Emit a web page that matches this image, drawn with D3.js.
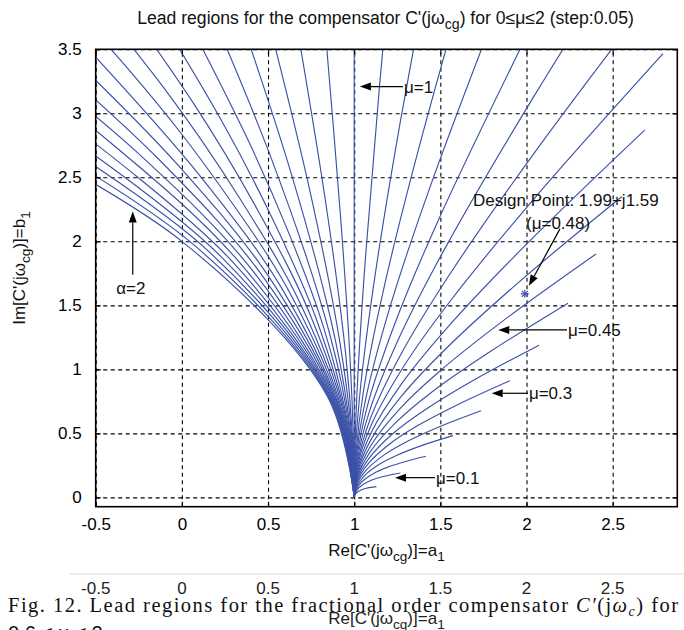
<!DOCTYPE html>
<html><head><meta charset="utf-8">
<script src="https://cdn.jsdelivr.net/npm/d3@7"></script>
<style>
body{margin:0;background:#fff}
svg{display:block}
text{font-family:"Liberation Sans",Arial,Helvetica,sans-serif}
</style>
</head><body>
<svg id="chart" width="684" height="630"></svg>
<script>
// ---------------- data ----------------
const mu = [0.05,0.10,0.15,0.20,0.25,0.30,0.35,0.40,0.45,0.50,
            0.55,0.60,0.65,0.70,0.75,0.80,0.85,0.90,0.95,1.00,
            1.05,1.10,1.15,1.20,1.25,1.30,1.35,1.40,1.45,1.50,
            1.55,1.60,1.65,1.70,1.75,1.80,1.85,1.90,1.95,2.00];
const startRe = 1, startIm = 0;
// successive points along each curve (one entry per mu; null = not on that curve)
const re_a = [1.004,1.007,1.010,1.012,1.014,1.016,1.017,1.018,1.019,1.019,1.019,1.018,1.018,1.016,1.015,1.012,1.010,1.007,1.004,1.000,0.996,0.991,0.987,0.981,0.976,0.969,0.963,0.956,0.948,0.941,0.932,0.924,0.915,0.905,0.896,0.885,0.875,0.864,0.852,0.840];
const im_a = [0.019,0.038,0.058,0.077,0.097,0.117,0.136,0.156,0.176,0.196,0.216,0.237,0.257,0.277,0.298,0.318,0.339,0.359,0.380,0.400,0.421,0.441,0.462,0.482,0.502,0.523,0.543,0.564,0.584,0.604,0.624,0.644,0.664,0.684,0.704,0.723,0.743,0.762,0.781,0.800];
const re_b = [1.017,1.032,1.046,1.059,1.070,1.079,1.087,1.093,1.097,1.099,1.099,1.097,1.093,1.087,1.078,1.068,1.054,1.039,1.021,1.000,0.977,0.951,0.922,0.891,0.857,0.820,0.780,0.738,0.692,0.644,0.592,0.538,0.481,0.421,0.358,0.292,0.223,0.152,0.077,0.000];
const im_b = [0.040,0.081,0.124,0.168,0.213,0.259,0.307,0.355,0.405,0.455,0.507,0.559,0.612,0.666,0.721,0.776,0.831,0.887,0.944,1.000,1.057,1.113,1.170,1.226,1.282,1.338,1.393,1.448,1.501,1.554,1.605,1.656,1.705,1.753,1.799,1.843,1.886,1.926,1.964,2.000];
const re_c = [null,null,null,null,null,null,null,null,null,null,null,null,null,null,null,null,null,null,null,null,null,null,null,null,null,0.622,0.535,0.442,0.341,0.234,0.118,-0.004,-0.134,-0.272,-0.417,-0.569,-0.729,-0.895,-1.069,-1.250];
const im_c = [null,null,null,null,null,null,null,null,null,null,null,null,null,null,null,null,null,null,null,null,null,null,null,null,null,2.060,2.150,2.239,2.325,2.409,2.490,2.568,2.641,2.710,2.774,2.832,2.885,2.930,2.969,3.000];
const re_d = [1.040,1.077,1.113,1.146,1.176,1.204,1.227,1.247,1.262,1.272,1.277,1.276,1.269,1.255,1.234,1.205,1.167,1.121,1.065,1.000,0.924,0.838,0.740,0.630,0.508,0.373,0.225,0.064,-0.111,-0.301,-0.504,-0.723,-0.956,-1.204,-1.466,null,null,null,null,null];
const im_d = [0.058,0.120,0.187,0.258,0.334,0.415,0.501,0.591,0.687,0.786,0.891,0.999,1.112,1.229,1.350,1.474,1.602,1.732,1.865,2.000,2.137,2.274,2.412,2.550,2.687,2.822,2.955,3.085,3.210,3.330,3.444,3.551,3.650,3.739,3.817,null,null,null,null,null];
const re_e = [1.065,1.128,1.191,1.252,1.310,1.364,1.414,1.457,1.494,1.523,1.542,1.550,1.546,1.526,1.491,1.438,1.364,1.268,1.147,1.000,0.823,0.615,0.373,0.093,-0.225,-0.586,-0.991,-1.443,-1.945,-2.498];
const im_e = [0.069,0.147,0.234,0.331,0.439,0.557,0.687,0.829,0.983,1.149,1.328,1.520,1.725,1.943,2.173,2.416,2.671,2.937,3.214,3.500,3.795,4.096,4.403,4.713,5.023,5.331,5.635,5.930,6.213,6.480];
const re_f = [1.096,1.195,1.297,1.399,1.502,1.603,1.700,1.792,1.875,1.946,2.003,2.041,2.056,2.042,1.995,1.907,1.771,1.581,1.327];
const im_f = [0.078,0.171,0.280,0.408,0.556,0.726,0.921,1.141,1.390,1.670,1.982,2.328,2.710,3.130,3.590,4.090,4.631,5.213,5.837];
const re_g = [1.129,1.268,1.416,1.573,1.736,1.903,2.073,2.241,2.403,2.554,2.686,2.792,2.862,2.883];
const im_g = [0.084,0.190,0.321,0.482,0.677,0.911,1.189,1.517,1.901,2.350,2.869,3.466,4.149,4.927];

const designRe = 1.99, designIm = 1.59;
const xTicks = [-0.5, 0, 0.5, 1, 1.5, 2, 2.5];
const xTickLabels = ["-0.5","0","0.5","1","1.5","2","2.5"];
const yTicks = [0, 0.5, 1, 1.5, 2, 2.5, 3, 3.5];
const yTickLabels = ["0","0.5","1","1.5","2","2.5","3","3.5"];

// annotation anchors (data coordinates)
const annMu1   = {tip:[1.033, 3.209], tail:[1.283, 3.209], label:"μ=1"};
const annAlpha = {tip:[-0.285, 2.232], tail:[-0.285, 1.738], label:"α=2"};
const annMu045 = {tip:[1.836, 1.308], tail:[2.235, 1.308], label:"μ=0.45"};
const annMu03  = {tip:[1.798, 0.813], tail:[2.008, 0.813], label:"μ=0.3"};
const annMu01  = {tip:[1.237, 0.154], tail:[1.469, 0.154], label:"μ=0.1"};
const annDesign= {tip:[2.014, 1.652], tail:[2.194, 2.097]};

// ---------------- drawing ----------------
const W = 684, H = 630;
const L = 95.7, R = 677.3, T = 49.3, B = 506.7;
const svg = d3.select("#chart");
svg.append("rect").attr("width", W).attr("height", H).attr("fill", "#fff");

const x = d3.scaleLinear().domain([-0.5, 2.875]).range([L, R]);
const y = d3.scaleLinear().domain([-0.073, 3.5]).range([B, T]);

// grid
const gx = svg.append("g").attr("transform", `translate(0,${B})`)
  .call(d3.axisBottom(x).tickValues(xTicks).tickSize(-(B - T)).tickFormat(""));
const gy = svg.append("g").attr("transform", `translate(${L},0)`)
  .call(d3.axisLeft(y).tickValues(yTicks).tickSize(-(R - L)).tickFormat(""));
[gx, gy].forEach(g => {
  g.select(".domain").remove();
  g.selectAll(".tick line").attr("stroke", "#000").attr("stroke-width", 1.1).attr("stroke-dasharray", "4,3.5");
});

// curves
svg.append("defs").append("clipPath").attr("id", "clip")
  .append("rect").attr("x", L).attr("y", T).attr("width", R - L).attr("height", B - T);
const samples = [[re_a, im_a], [re_b, im_b], [re_c, im_c], [re_d, im_d], [re_e, im_e], [re_f, im_f], [re_g, im_g]];
const curves = mu.map((m, i) => {
  const pts = [[startRe, startIm]];
  samples.forEach(([r, im]) => { if (r[i] != null) pts.push([r[i], im[i]]); });
  return pts;
});
const line = d3.line().x(d => x(d[0])).y(d => y(d[1])).curve(d3.curveCatmullRom.alpha(0.5));
svg.append("g").attr("clip-path", "url(#clip)")
  .selectAll("path").data(curves).join("path")
  .attr("d", line).attr("fill", "none").attr("stroke", "#3b52a8").attr("stroke-width", 1.15);

// design point marker
const dp = svg.append("g").attr("transform", `translate(${x(designRe)},${y(designIm)})`)
  .attr("stroke", "#3b52a8").attr("stroke-width", 1.2);
dp.append("line").attr("x1", -4).attr("x2", 4);
dp.append("line").attr("y1", -4).attr("y2", 4);
dp.append("line").attr("x1", -3).attr("y1", -3).attr("x2", 3).attr("y2", 3);
dp.append("line").attr("x1", -3).attr("y1", 3).attr("x2", 3).attr("y2", -3);

// box + inward ticks
svg.append("rect").attr("x", L).attr("y", T).attr("width", R - L).attr("height", B - T)
  .attr("fill", "none").attr("stroke", "#000").attr("stroke-width", 1.6);
const fs = 17;
const ax = svg.append("g").attr("transform", `translate(0,${B})`)
  .call(d3.axisBottom(x).tickValues(xTicks).tickSizeInner(-5).tickSizeOuter(0).tickPadding(11)
    .tickFormat((d, i) => xTickLabels[i]));
const ay = svg.append("g").attr("transform", `translate(${L},0)`)
  .call(d3.axisLeft(y).tickValues(yTicks).tickSizeInner(-5).tickSizeOuter(0).tickPadding(14)
    .tickFormat((d, i) => yTickLabels[i]));
const axT = svg.append("g").attr("transform", `translate(0,${T})`)
  .call(d3.axisTop(x).tickValues(xTicks).tickSizeInner(-5).tickSizeOuter(0).tickFormat(""));
const ayR = svg.append("g").attr("transform", `translate(${R},0)`)
  .call(d3.axisRight(y).tickValues(yTicks).tickSizeInner(-5).tickSizeOuter(0).tickFormat(""));
[ax, ay, axT, ayR].forEach(g => {
  g.select(".domain").remove();
  g.selectAll(".tick line").attr("stroke", "#000").attr("stroke-width", 1.2);
  g.selectAll(".tick text").attr("font-size", fs).attr("fill", "#000")
    .attr("font-family", '"Liberation Sans",Arial,sans-serif');
});

// helper for text with subscripts: parts = [[text, sub?], ...]
function richText(t, parts, size) {
  let cur = 0;
  parts.forEach(([s, sub]) => {
    const want = sub ? 5 : 0;
    const ts = t.append("tspan").text(s).attr("dy", want - cur);
    if (sub) ts.attr("font-size", size * 0.8);
    cur = want;
  });
  return t;
}

// title
richText(svg.append("text").attr("x", (L + R) / 2 - 1).attr("y", 24).attr("text-anchor", "middle")
  .attr("font-size", 17.6).attr("fill", "#111"),
  [["Lead regions for the compensator C'(jω"], ["cg", true], [") for 0≤μ≤2 (step:0.05)"]], 17.6);

// x label
richText(svg.append("text").attr("x", (L + R) / 2).attr("y", 556).attr("text-anchor", "middle")
  .attr("font-size", fs).attr("fill", "#111"),
  [["Re[C'(jω"], ["cg", true], [")]=a"], ["1", true]], fs);

// y label
richText(svg.append("text").attr("transform", `translate(25,${(T + B) / 2 - 10}) rotate(-90)`)
  .attr("text-anchor", "middle").attr("font-size", fs).attr("fill", "#111"),
  [["Im[C'(jω"], ["cg", true], [")]=b"], ["1", true]], fs);

// annotations
function arrow(x1, y1, x2, y2) {
  const g = svg.append("g");
  const ang = Math.atan2(y2 - y1, x2 - x1);
  const hl = 11, hw = 4;
  const bx = x2 - hl * Math.cos(ang), by = y2 - hl * Math.sin(ang);
  g.append("line").attr("x1", x1).attr("y1", y1).attr("x2", bx).attr("y2", by)
    .attr("stroke", "#000").attr("stroke-width", 1.2);
  g.append("path").attr("d", `M${x2},${y2}L${bx + hw * Math.sin(ang)},${by - hw * Math.cos(ang)}L${bx - hw * Math.sin(ang)},${by + hw * Math.cos(ang)}Z`)
    .attr("fill", "#000");
}
function hAnn(a) {
  arrow(x(a.tail[0]), y(a.tail[1]), x(a.tip[0]), y(a.tip[1]));
  svg.append("text").attr("x", x(a.tail[0]) + 1).attr("y", y(a.tail[1]) + 6)
    .attr("font-size", fs).attr("fill", "#111").text(a.label);
}
[annMu1, annMu045, annMu03, annMu01].forEach(hAnn);
arrow(x(annAlpha.tail[0]), y(annAlpha.tail[1]), x(annAlpha.tip[0]), y(annAlpha.tip[1]));
svg.append("text").attr("x", x(annAlpha.tail[0]) - 2).attr("y", y(annAlpha.tail[1]) + 19)
  .attr("text-anchor", "middle").attr("font-size", fs).attr("fill", "#111").text(annAlpha.label);

svg.append("text").attr("x", 473).attr("y", 206).attr("font-size", fs).attr("fill", "#111")
  .text("Design Point: 1.99+j1.59");
svg.append("text").attr("x", 526).attr("y", 229).attr("font-size", fs).attr("fill", "#111")
  .text("(μ=0.48)");
arrow(x(annDesign.tail[0]), y(annDesign.tail[1]), x(annDesign.tip[0]), y(annDesign.tip[1]));

// ---------------- scanned page remainder below the figure ----------------
svg.append("line").attr("x1", 70).attr("x2", 684).attr("y1", 574).attr("y2", 574)
  .attr("stroke", "#d8d8d8").attr("stroke-width", 1);
const ghost = svg.append("g");
xTicks.forEach((v, i) => {
  ghost.append("text").attr("x", x(v)).attr("y", 594).attr("text-anchor", "middle")
    .attr("font-size", fs).attr("fill", "#222").text(xTickLabels[i]);
});
const cap = svg.append("text").attr("x", 8).attr("y", 612)
  .attr("font-family", '"Liberation Serif","Times New Roman",serif').attr("font-size", 20.5).attr("fill", "#111")
  .attr("textLength", 670).attr("lengthAdjust", "spacing");
cap.append("tspan").attr("font-family", '"Liberation Serif",serif').text("Fig. 12. Lead regions for the fractional order compensator ");
cap.append("tspan").attr("font-family", '"Liberation Serif",serif').attr("font-style", "italic").text("C′");
cap.append("tspan").attr("font-family", '"Liberation Serif",serif').text("(j");
cap.append("tspan").attr("font-family", '"Liberation Serif",serif').attr("font-style", "italic").text("ω");
cap.append("tspan").attr("font-family", '"Liberation Serif",serif').attr("font-style", "italic").attr("font-size", 14).attr("dy", 4).text("c");
cap.append("tspan").attr("font-family", '"Liberation Serif",serif').attr("dy", -4).text(") for");
richText(svg.append("text").attr("x", (L + R) / 2).attr("y", 624).attr("text-anchor", "middle")
  .attr("font-size", fs).attr("fill", "#222"),
  [["Re[C'(jω"], ["cg", true], [")]=a"], ["1", true]], fs);
svg.append("text").attr("x", 8).attr("y", 640)
  .attr("font-family", '"Liberation Serif",serif').attr("font-size", 20).attr("fill", "#111")
  .text("0.6 ≤ μ ≤ 2");
</script>
</body></html>
